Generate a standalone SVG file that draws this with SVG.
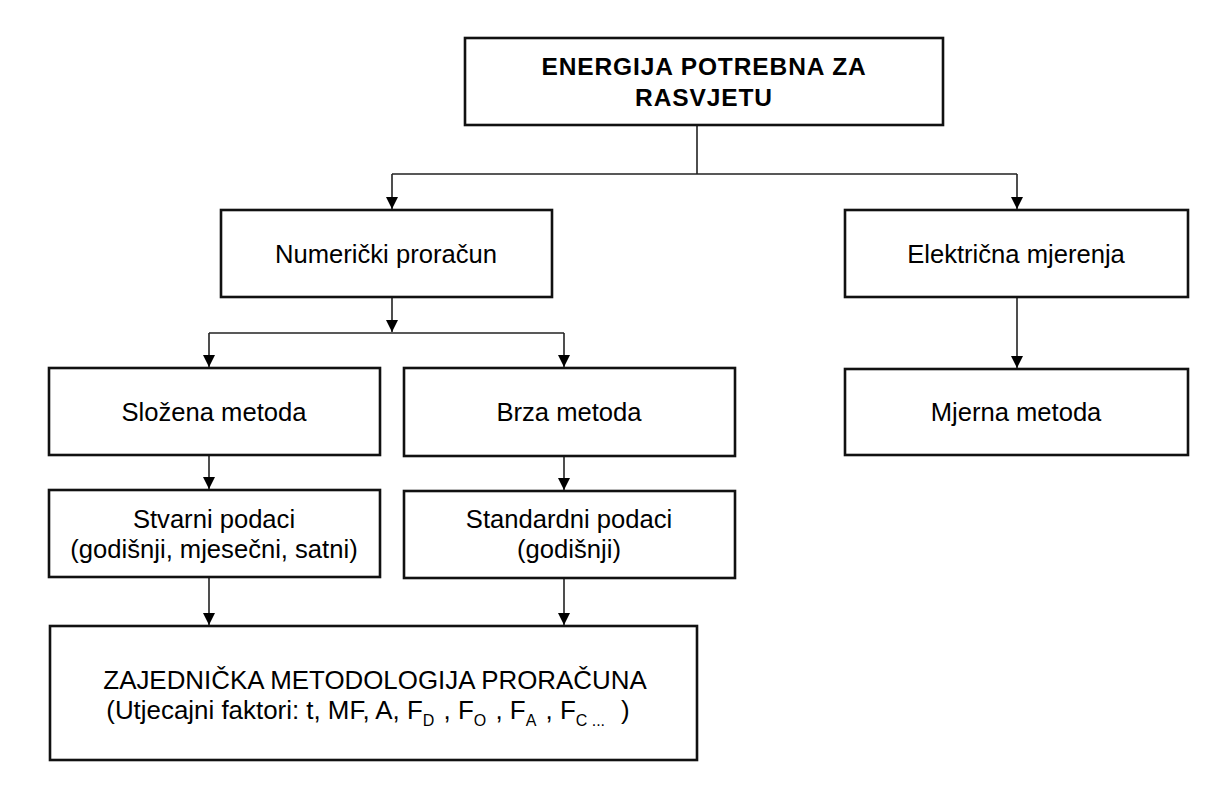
<svg xmlns="http://www.w3.org/2000/svg" width="1205" height="798" viewBox="0 0 1205 798">
<defs>
<style>
.box{fill:#fff;stroke:#111;stroke-width:2.6}
.t{font-family:"Liberation Sans",Arial,sans-serif;font-size:25.6px;fill:#000;text-anchor:middle}
.b{font-weight:bold;font-size:24.5px;letter-spacing:0.9px}
.z{font-size:25.9px}
.sub{font-size:16px}
.c{fill:none;stroke:#222;stroke-width:1.6}
</style>
<marker id="ah" markerUnits="userSpaceOnUse" markerWidth="14" markerHeight="14" viewBox="0 0 14 14" refX="12" refY="7" orient="auto">
<path d="M0,1 L12,7 L0,13 Z" fill="#000"/>
</marker>
</defs>
<rect width="1205" height="798" fill="#fff"/>
<g id="connectors">
<path class="c" d="M697,125 V174 M392,174 H1017"/>
<path class="c" d="M392,174 V209" marker-end="url(#ah)"/>
<path class="c" d="M1017,174 V209" marker-end="url(#ah)"/>
<path class="c" d="M392,297 V332" marker-end="url(#ah)"/>
<path class="c" d="M209,333 H564"/>
<path class="c" d="M209,333 V367" marker-end="url(#ah)"/>
<path class="c" d="M564,333 V367" marker-end="url(#ah)"/>
<path class="c" d="M209,455 V489" marker-end="url(#ah)"/>
<path class="c" d="M564,456 V490" marker-end="url(#ah)"/>
<path class="c" d="M1017,297 V368" marker-end="url(#ah)"/>
<path class="c" d="M209,577 V625" marker-end="url(#ah)"/>
<path class="c" d="M564,578 V625" marker-end="url(#ah)"/>
</g>
<g id="n-energija">
<rect class="box" x="465" y="38" width="478" height="87"/>
<text class="t b" x="704" y="75">ENERGIJA POTREBNA ZA</text>
<text class="t b" x="704" y="106">RASVJETU</text>
</g>
<g id="n-numericki">
<rect class="box" x="221" y="210" width="331" height="87"/>
<text class="t" x="386" y="263">Numerički proračun</text>
</g>
<g id="n-elektricna">
<rect class="box" x="845" y="210" width="343" height="87"/>
<text class="t" x="1016" y="263">Električna mjerenja</text>
</g>
<g id="n-slozena">
<rect class="box" x="49" y="368" width="331" height="87"/>
<text class="t" x="214" y="421">Složena metoda</text>
</g>
<g id="n-brza">
<rect class="box" x="404" y="368" width="331" height="88"/>
<text class="t" x="569" y="421">Brza metoda</text>
</g>
<g id="n-mjerna">
<rect class="box" x="845" y="369" width="343" height="86"/>
<text class="t" x="1016" y="421">Mjerna metoda</text>
</g>
<g id="n-stvarni">
<rect class="box" x="49" y="490" width="331" height="87"/>
<text class="t" x="214" y="528">Stvarni podaci</text>
<text class="t" x="214" y="558">(godišnji, mjesečni, satni)</text>
</g>
<g id="n-standardni">
<rect class="box" x="404" y="491" width="331" height="87"/>
<text class="t" x="569" y="528">Standardni podaci</text>
<text class="t" x="569" y="558">(godišnji)</text>
</g>
<g id="n-zajednicka">
<rect class="box" x="50" y="626" width="647" height="134"/>
<text class="t z" x="375" y="689">ZAJEDNIČKA METODOLOGIJA PRORAČUNA</text>
<text class="t z" x="368" y="719">(Utjecajni faktori: t, MF, A, F<tspan class="sub" dy="7">D</tspan><tspan dy="-7" dx="2"> , F</tspan><tspan class="sub" dy="7">O</tspan><tspan dy="-7" dx="2"> , F</tspan><tspan class="sub" dy="7">A</tspan><tspan dy="-7" dx="2"> , F</tspan><tspan class="sub" dy="7">C ...</tspan><tspan dy="-7" dx="16">)</tspan></text>
</g>
</svg>
